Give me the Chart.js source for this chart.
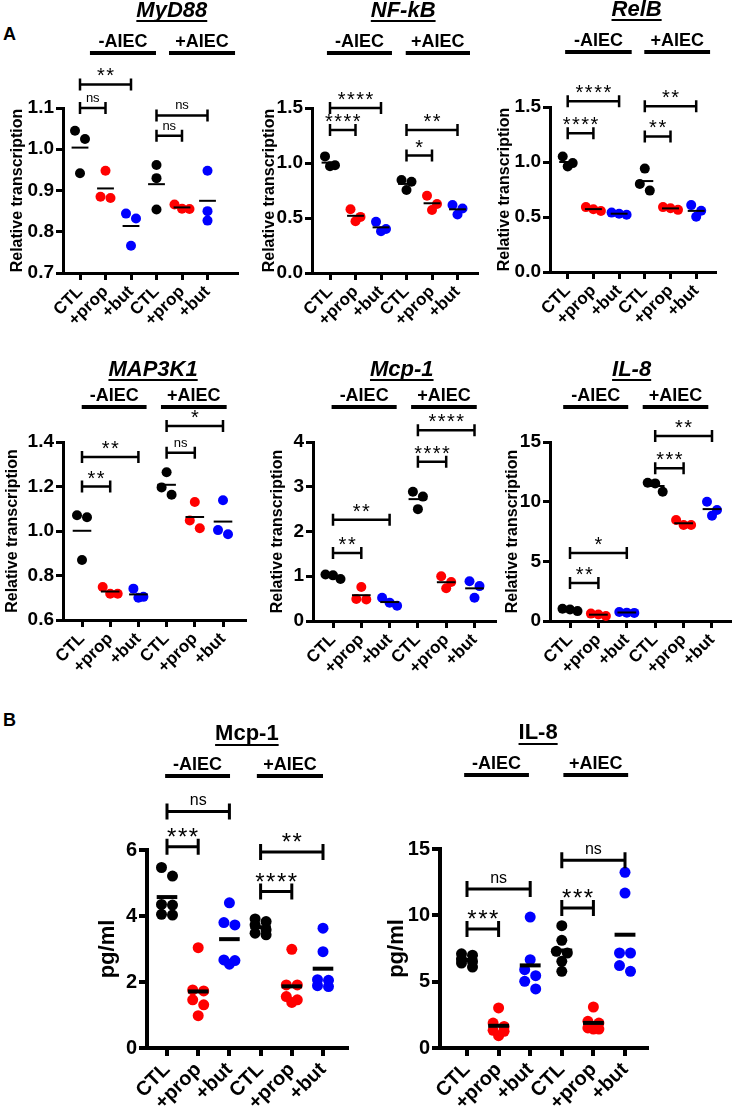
<!DOCTYPE html>
<html>
<head>
<meta charset="utf-8">
<script src="https://cdn.jsdelivr.net/npm/chart.js@4.4.0/dist/chart.umd.min.js"></script>
<style>
  html, body { margin: 0; padding: 0; background: #fff; }
  body { width: 733px; height: 1117px; position: relative; overflow: hidden; font-family: 'Liberation Sans', Arial, sans-serif; }
  canvas { position: absolute; }
  .tag { position: absolute; font-weight: bold; font-size: 18px; line-height: 18px; }
</style>
</head>
<body>
<div class="tag" style="left:3px;top:25px">A</div>
<div class="tag" style="left:3px;top:711px">B</div>
<script>
const FONT = "'Liberation Sans', Arial, sans-serif";
const COLORS = ['#000000', '#ff0000', '#0000ff'];

const xLabels = ['CTL', '+prop', '+but', 'CTL', '+prop', '+but'];
const groupNames = ['-AIEC', '+AIEC'];

// one inner array per column (CTL, +prop, +but | CTL, +prop, +but)
const myd88   = [[1.045, 1.025, 0.942], [0.948, 0.885, 0.882], [0.844, 0.832, 0.766], [0.962, 0.930, 0.854], [0.866, 0.856, 0.855], [0.948, 0.850, 0.827]];
const nfkb    = [[1.06, 0.98, 0.97], [0.58, 0.51, 0.47], [0.465, 0.40, 0.38], [0.846, 0.83, 0.754], [0.703, 0.627, 0.572], [0.618, 0.587, 0.532]];
const relb    = [[1.05, 0.99, 0.96], [0.59, 0.57, 0.555], [0.54, 0.53, 0.52], [0.94, 0.80, 0.74], [0.59, 0.58, 0.565], [0.608, 0.557, 0.502]];
const map3k1  = [[1.071, 1.062, 0.870], [0.748, 0.718, 0.718], [0.741, 0.704, 0.700], [1.264, 1.196, 1.163], [1.13, 1.047, 1.012], [1.138, 1.004, 0.985]];
const mcp1Rel = [[1.04, 1.02, 0.94], [0.76, 0.49, 0.48], [0.52, 0.41, 0.34], [2.89, 2.78, 2.50], [1.0, 0.87, 0.73], [0.89, 0.78, 0.52]];
const il8Rel  = [[1.03, 0.97, 0.83], [0.62, 0.55, 0.42], [0.76, 0.70, 0.68], [11.58, 11.53, 10.83], [8.47, 8.05, 8.05], [10.0, 9.3, 8.83]];
const mcp1Pg  = [[5.47, 5.21, 4.35, 4.33, 4.05, 4.03], [3.04, 1.76, 1.73, 1.46, 1.31, 0.98], [4.40, 3.80, 3.73, 2.67, 2.65, 2.54],
                 [3.91, 3.83, 3.73, 3.58, 3.48, 3.43], [2.99, 1.91, 1.91, 1.56, 1.46, 1.38], [3.63, 2.92, 2.07, 2.05, 1.89, 1.86]];
const il8Pg   = [[7.1, 7.0, 6.7, 6.5, 6.4, 6.1], [3.02, 1.88, 1.63, 1.33, 1.26, 0.93], [9.87, 6.66, 5.90, 5.45, 5.03, 4.45],
                 [9.22, 8.12, 7.29, 7.16, 6.53, 5.78], [3.09, 2.01, 1.88, 1.51, 1.43, 1.43], [13.24, 11.68, 7.16, 7.16, 6.21, 5.78]];

// significance brackets: [from column, to column, height, label]
const myd88Sig   = [[0, 1, 1.1, 'ns'], [0, 2, 1.157, '**'], [3, 4, 1.033, 'ns'], [3, 5, 1.082, 'ns']];
const nfkbSig    = [[0, 1, 1.30, '****'], [0, 2, 1.5, '****'], [3, 4, 1.068, '*'], [3, 5, 1.30, '**']];
const relbSig    = [[0, 1, 1.262, '****'], [0, 2, 1.552, '****'], [3, 4, 1.232, '**'], [3, 5, 1.506, '**']];
const map3k1Sig  = [[0, 1, 1.2, '**'], [0, 2, 1.333, '**'], [3, 4, 1.352, 'ns'], [3, 5, 1.472, '*']];
const mcp1RelSig = [[0, 1, 1.52, '**'], [0, 2, 2.26, '**'], [3, 4, 3.56, '****'], [3, 5, 4.26, '****']];
const il8RelSig  = [[0, 1, 3.19, '**'], [0, 2, 5.69, '*'], [3, 4, 12.8, '***'], [3, 5, 15.5, '**']];
const mcp1PgSig  = [[0, 1, 6.10, '***'], [0, 2, 7.17, 'ns'], [3, 4, 4.74, '****'], [3, 5, 5.94, '**']];
const il8PgSig   = [[0, 1, 8.97, '***'], [0, 2, 11.98, 'ns'], [3, 4, 10.55, '***'], [3, 5, 14.15, 'ns']];

const rowStyles = {
  top:    { titleDy: -91, ulDy: 4, barDy: -55, titleSize: 22, groupSize: 18, tickSize: 19, xSize: 17, yTitleSize: 16, axisW: 3, tickLen: 7, dot: 5, meanW: 2, brW: 2.5, leg: 6, starSize: 20, nsSize: 13 },
  middle: { titleDy: -66, ulDy: 4, barDy: -35, titleSize: 22, groupSize: 18, tickSize: 19, xSize: 17, yTitleSize: 16, axisW: 3, tickLen: 7, dot: 5, meanW: 2, brW: 2.5, leg: 6, starSize: 20, nsSize: 13 },
  bottom: { titleDy: -110, ulDy: 5, barDy: -74, titleSize: 22, groupSize: 18, tickSize: 20, xSize: 20, yTitleSize: 22, axisW: 4, tickLen: 8, dot: 5.5, meanW: 4, brW: 3, leg: 8, starSize: 24, nsSize: 16 }
};

// pixel frame of each plot (L,R,T,B) and where its first tick / tick spacing sit
const panels = [
  { title: 'MyD88',  italic: true,  vals: myd88,   sig: myd88Sig,   yMin: 0.7, yMax: 1.1, yStep: 0.1, dec: 1, yTitle: 'Relative transcription', row: 'top',
    L: 63,  R: 237, T: 108, B: 273, tick0: 80,    sp: 25.5, yTitleX: 18,  titleX: 3.6, groupX: [[0.39, 2.98], [3.49, 6.08]] },
  { title: 'NF-kB',  italic: true,  vals: nfkb,    sig: nfkbSig,    yMin: 0,   yMax: 1.5, yStep: 0.5, dec: 1, yTitle: 'Relative transcription', row: 'top',
    L: 312, R: 477, T: 108, B: 273, tick0: 330,   sp: 25.5, yTitleX: 270, titleX: 2.87, groupX: [[-0.12, 2.43], [2.97, 5.49]] },
  { title: 'RelB',   italic: true,  vals: relb,    sig: relbSig,    yMin: 0,   yMax: 1.5, yStep: 0.5, dec: 1, yTitle: 'Relative transcription', row: 'top',
    L: 550, R: 715, T: 107, B: 272, tick0: 567.7, sp: 25.7, yTitleX: 505, titleX: 2.68, groupX: [[-0.1, 2.49], [2.98, 5.54]] },
  { title: 'MAP3K1', italic: true,  vals: map3k1,  sig: map3k1Sig,  yMin: 0.6, yMax: 1.4, yStep: 0.2, dec: 1, yTitle: 'Relative transcription', row: 'middle',
    L: 63,  R: 245, T: 442, B: 620, tick0: 82,    sp: 28.2, yTitleX: 13,  titleX: 2.52, groupX: [[-0.01, 2.29], [2.8, 5.13]] },
  { title: 'Mcp-1',  italic: true,  vals: mcp1Rel, sig: mcp1RelSig, yMin: 0,   yMax: 4,   yStep: 1,   dec: 0, yTitle: 'Relative transcription', row: 'middle',
    L: 313, R: 495, T: 442, B: 621, tick0: 333,   sp: 28.3, yTitleX: 278, titleX: 2.43, groupX: [[-0.05, 2.25], [2.76, 5.08]] },
  { title: 'IL-8',   italic: true,  vals: il8Rel,  sig: il8RelSig,  yMin: 0,   yMax: 15,  yStep: 5,   dec: 0, yTitle: 'Relative transcription', row: 'middle',
    L: 550, R: 730, T: 442, B: 621, tick0: 570,   sp: 28.4, yTitleX: 513, titleX: 2.17, groupX: [[-0.24, 2.05], [2.56, 4.87]] },
  { title: 'Mcp-1',  italic: false, vals: mcp1Pg,  sig: mcp1PgSig,  yMin: 0,   yMax: 6,   yStep: 2,   dec: 0, yTitle: 'pg/ml', row: 'bottom',
    L: 147, R: 347, T: 850, B: 1048, tick0: 167,  sp: 31.2, yTitleX: 108, titleX: 2.56, groupX: [[-0.06, 2.02], [2.88, 5.0]] },
  { title: 'IL-8',   italic: false, vals: il8Pg,   sig: il8PgSig,   yMin: 0,   yMax: 15,  yStep: 5,   dec: 0, yTitle: 'pg/ml', row: 'bottom',
    L: 440, R: 647, T: 849, B: 1048, tick0: 467,  sp: 31.6, yTitleX: 397, titleX: 2.25, groupX: [[-0.09, 1.96], [3.05, 5.1]] }
];

// spread overlapping dots sideways, GraphPad style (small rows only)
function swarm(vals, pxPerY, pxPerX, dia) {
  const idx = vals.map((v, i) => i).sort((a, b) => vals[b] - vals[a]);
  const off = new Array(vals.length).fill(0);
  const maxRow = vals.length > 3 ? 2 : 3;
  let row = [];
  const flush = () => {
    const gap = row.length > 2 ? 0.75 * dia : dia;
    row.forEach((k, j) => off[k] = (j - (row.length - 1) / 2) * gap / pxPerX);
    row = [];
  };
  idx.forEach(k => {
    if (row.length && (row.length >= maxRow || (vals[row[0]] - vals[k]) * pxPerY >= 0.9 * dia)) flush();
    row.push(k);
  });
  flush();
  return off;
}

const decor = {
  id: 'decor',
  afterDraw(chart, args, o) {
    const { ctx, chartArea: a, scales: { x, y } } = chart;
    const p = o.panel, st = o.style;
    ctx.save();
    ctx.fillStyle = '#000';
    ctx.strokeStyle = '#000';
    ctx.textAlign = 'center';
    ctx.textBaseline = 'alphabetic';

    // gene title, underlined
    ctx.font = `${p.italic ? 'italic ' : ''}bold ${st.titleSize}px ${FONT}`;
    const tx = x.getPixelForValue(p.titleX), ty = a.top + st.titleDy;
    ctx.fillText(p.title, tx, ty);
    const tw = ctx.measureText(p.title).width;
    ctx.lineWidth = 2;
    ctx.beginPath();
    ctx.moveTo(tx - tw / 2, ty + st.ulDy);
    ctx.lineTo(tx + tw / 2, ty + st.ulDy);
    ctx.stroke();

    // -AIEC / +AIEC headers
    ctx.font = `bold ${st.groupSize}px ${FONT}`;
    ctx.lineWidth = 4;
    groupNames.forEach((g, i) => {
      const x0 = x.getPixelForValue(p.groupX[i][0]), x1 = x.getPixelForValue(p.groupX[i][1]);
      const by = a.top + st.barDy;
      ctx.fillText(g, (x0 + x1) / 2, by - 6);
      ctx.beginPath();
      ctx.moveTo(x0, by);
      ctx.lineTo(x1, by);
      ctx.stroke();
    });

    // brackets
    ctx.lineWidth = st.brW;
    p.sig.forEach(([i, j, v, t]) => {
      const x0 = x.getPixelForValue(i), x1 = x.getPixelForValue(j), yy = y.getPixelForValue(v);
      ctx.beginPath();
      ctx.moveTo(x0, yy - st.leg); ctx.lineTo(x0, yy + st.leg);
      ctx.moveTo(x0, yy); ctx.lineTo(x1, yy);
      ctx.moveTo(x1, yy - st.leg); ctx.lineTo(x1, yy + st.leg);
      ctx.stroke();
      const stars = t.includes('*');
      ctx.font = stars ? `${st.starSize}px ${FONT}` : `${st.nsSize}px ${FONT}`;
      ctx.letterSpacing = stars ? '1.5px' : '0px';
      ctx.fillText(t, (x0 + x1) / 2 + (stars ? 0.75 : 0), stars ? yy - 2 : yy - 6);
    });
    ctx.restore();
  }
};

panels.forEach(p => {
  const st = rowStyles[p.row];
  const cLeft = p.L - 63, cTop = p.T - 140, cRight = p.R + 15, cBottom = p.B + 70;
  const canvas = document.createElement('canvas');
  canvas.width = cRight - cLeft;
  canvas.height = cBottom - cTop;
  canvas.style.left = cLeft + 'px';
  canvas.style.top = cTop + 'px';
  document.body.appendChild(canvas);

  const xMin = (p.L - p.tick0) / p.sp;
  const xMax = xMin + (p.R - p.L) / p.sp;
  const pxPerY = (p.B - p.T) / (p.yMax - p.yMin);

  const means = p.vals.map((vs, i) => {
    const m = vs.reduce((s, v) => s + v, 0) / vs.length;
    return {
      type: 'scatter', showLine: true, order: 0,
      data: [{ x: i - 0.33, y: m }, { x: i + 0.33, y: m }],
      borderColor: '#000', borderWidth: st.meanW, pointRadius: 0
    };
  });
  const dots = p.vals.map((vs, i) => {
    const off = swarm(vs, pxPerY, p.sp, st.dot * 2);
    return {
      type: 'scatter', order: 1,
      data: vs.map((v, k) => ({ x: i + off[k], y: v })),
      backgroundColor: COLORS[i % 3], borderWidth: 0, pointRadius: st.dot
    };
  });

  new Chart(canvas, {
    type: 'scatter',
    data: { datasets: [...means, ...dots] },
    plugins: [decor],
    options: {
      responsive: false,
      animation: false,
      layout: { padding: { left: 0, top: p.T - cTop, right: cRight - p.R, bottom: 0 } },
      plugins: { legend: { display: false }, tooltip: { enabled: false }, decor: { panel: p, style: st } },
      scales: {
        x: {
          type: 'linear', min: xMin, max: xMax,
          afterBuildTicks: s => { s.ticks = xLabels.map((_, i) => ({ value: i })); },
          afterFit: s => { s.height = cBottom - p.B; },
          grid: { drawOnChartArea: false, color: '#000', lineWidth: st.axisW, tickLength: st.tickLen },
          border: { display: true, color: '#000', width: st.axisW },
          ticks: { autoSkip: false, minRotation: 45, maxRotation: 45, padding: 2, color: '#000',
                   font: { family: FONT, size: st.xSize, weight: 'bold' },
                   callback: v => xLabels[Math.round(v)] }
        },
        y: {
          min: p.yMin, max: p.yMax,
          afterBuildTicks: s => {
            const t = [];
            for (let v = p.yMin; v <= p.yMax + 1e-9; v += p.yStep) t.push({ value: +v.toFixed(4) });
            s.ticks = t;
          },
          afterFit: s => { s.width = p.L - cLeft; },
          grid: { drawOnChartArea: false, color: '#000', lineWidth: st.axisW, tickLength: st.tickLen },
          border: { display: true, color: '#000', width: st.axisW },
          ticks: { padding: 2, color: '#000', font: { family: FONT, size: st.tickSize, weight: 'bold' },
                   callback: v => v.toFixed(p.dec) },
          title: { display: true, text: p.yTitle, color: '#000',
                   font: { family: FONT, size: st.yTitleSize, weight: 'bold' },
                   padding: { top: p.yTitleX - cLeft - st.yTitleSize * 0.6, bottom: 0 } }
        }
      }
    }
  });
});
</script>
</body>
</html>
